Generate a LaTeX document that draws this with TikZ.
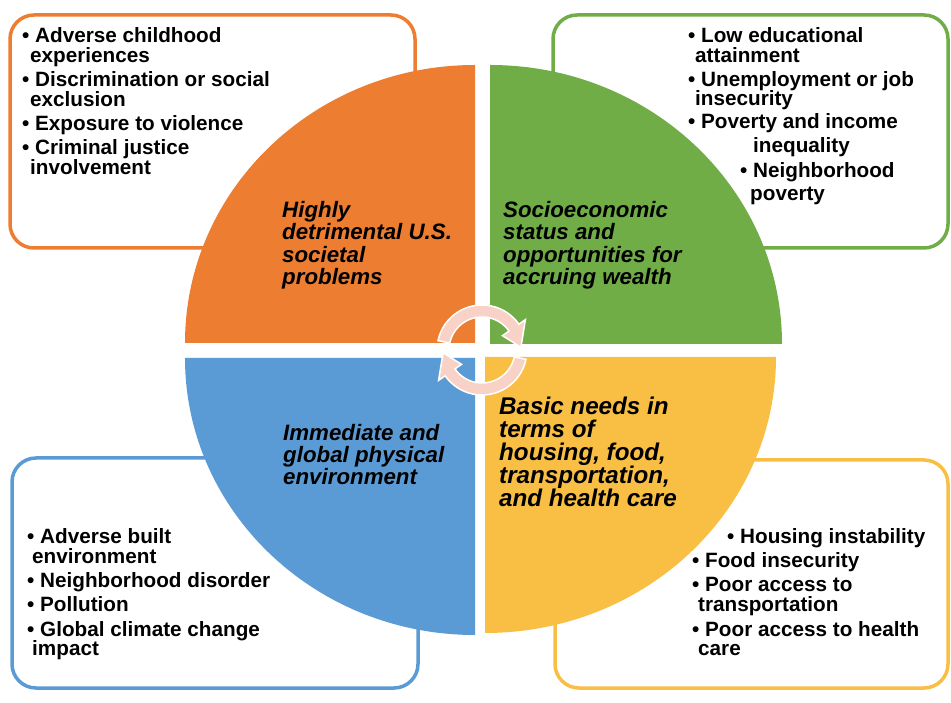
\documentclass[tikz,border=0pt]{standalone}
\usepackage{fontspec}
\setmainfont{Liberation Sans}
\usetikzlibrary{calc}
\definecolor{qorange}{HTML}{ED7D31}
\definecolor{qgreen}{HTML}{70AD47}
\definecolor{qblue}{HTML}{5B9BD5}
\definecolor{qyellow}{HTML}{F9BF44}
\definecolor{cycpink}{RGB}{248,210,198}
\begin{document}
\begin{tikzpicture}[x=1pt,y=1pt,
  listbox/.style={line width=3.5pt, rounded corners=24pt, fill=white},
  bul/.style={anchor=base west, inner sep=0pt, font=\fontsize{20.7}{20}\selectfont\bfseries},
  lab/.style={anchor=base west, inner sep=0pt, font=\fontsize{22.3}{22}\selectfont\bfseries\itshape},
  biglab/.style={anchor=base west, inner sep=0pt, font=\fontsize{24.2}{23}\selectfont\bfseries\itshape},
  cyc/.style={fill=cycpink, draw=white, line width=1.5pt}]
\useasboundingbox[fill=white] (0,0) rectangle (951,702);

% list boxes behind the circle
\draw[listbox, draw=qorange] (10,454) rectangle (415,687);
\draw[listbox, draw=qgreen]  (553,454) rectangle (948,687);
\draw[listbox, draw=qblue]   (12,14) rectangle (418,244);
\draw[listbox, draw=qyellow] (555,14) rectangle (948,242);

% the four quarters of the circle
\fill[qorange] (475,359) -- (185,359) arc[start angle=180, end angle=90, x radius=290, y radius=278] -- cycle;
\fill[qgreen]  (490,358) -- (490,637) arc[start angle=90, end angle=0, x radius=292, y radius=279] -- cycle;
\fill[qyellow] (485,345) -- (776,345) arc[start angle=0, end angle=-90, x radius=291, y radius=276] -- cycle;
\fill[qblue]   (475,344) -- (475,67) arc[start angle=-90, end angle=-180, x radius=290, y radius=277] -- cycle;

% quarter titles
\node[lab] (ot1) at (282,484) {Highly};
\node[lab] (ot2) at (282,462) {detrimental U.S.};
\node[lab] (ot3) at (282,439) {societal};
\node[lab] (ot4) at (282,417) {problems};

\node[lab] (gt1) at (503,484) {Socioeconomic};
\node[lab] (gt2) at (503,462) {status and};
\node[lab] (gt3) at (503,439) {opportunities for};
\node[lab] (gt4) at (503,417) {accruing wealth};

\node[lab] (bt1) at (283,261) {Immediate and};
\node[lab] (bt2) at (283,239) {global physical};
\node[lab] (bt3) at (283,217) {environment};

\node[biglab] (yt1) at (499,287) {Basic needs in};
\node[biglab] (yt2) at (499,264) {terms of};
\node[biglab] (yt3) at (499,241) {housing, food,};
\node[biglab] (yt4) at (499,218) {transportation,};
\node[biglab] (yt5) at (499,195) {and health care};

% orange list
\node[bul] (o1) at (22,659) {\textbullet\ Adverse childhood};
\node[bul] (o2) at (30,639) {experiences};
\node[bul] (o3) at (22,615) {\textbullet\ Discrimination or social};
\node[bul] (o4) at (30,595) {exclusion};
\node[bul] (o5) at (22,571) {\textbullet\ Exposure to violence};
\node[bul] (o6) at (22,547) {\textbullet\ Criminal justice};
\node[bul] (o7) at (30,527) {involvement};

% green list
\node[bul] (g1) at (688,659) {\textbullet\ Low educational};
\node[bul] (g2) at (695,639) {attainment};
\node[bul] (g3) at (688,615) {\textbullet\ Unemployment or job};
\node[bul] (g4) at (695,596) {insecurity};
\node[bul] (g5) at (688,573) {\textbullet\ Poverty and income};
\node[bul] (g6) at (753,549) {inequality};
\node[bul] (g7) at (740,524) {\textbullet\ Neighborhood};
\node[bul] (g8) at (750,501) {poverty};

% blue list
\node[bul] (b1) at (27,158) {\textbullet\ Adverse built};
\node[bul] (b2) at (32,138) {environment};
\node[bul] (b3) at (27,114) {\textbullet\ Neighborhood disorder};
\node[bul] (b4) at (27,90)  {\textbullet\ Pollution};
\node[bul] (b5) at (27,66)  {\textbullet\ Global climate change};
\node[bul] (b6) at (32,46)  {impact};

% yellow list
\node[bul] (y1) at (727,158) {\textbullet\ Housing instability};
\node[bul] (y2) at (692,134) {\textbullet\ Food insecurity};
\node[bul] (y3) at (692,110) {\textbullet\ Poor access to};
\node[bul] (y4) at (698,90)  {transportation};
\node[bul] (y5) at (692,66)  {\textbullet\ Poor access to health};
\node[bul] (y6) at (698,46)  {care};

% circular arrows in the middle
\coordinate (cc) at (482,352);
\path[cyc] ([shift={(168:45)}]cc) arc[start angle=168, end angle=35, radius=45]
  -- ([shift={(35:53)}]cc) -- ([shift={(4:39)}]cc) -- ([shift={(35:25)}]cc)
  -- ([shift={(35:33)}]cc) arc[start angle=35, end angle=168, radius=33] -- cycle;
\path[cyc] ([shift={(-12:45)}]cc) arc[start angle=-12, end angle=-145, radius=45]
  -- ([shift={(-145:53)}]cc) -- ([shift={(-176:39)}]cc) -- ([shift={(-145:25)}]cc)
  -- ([shift={(-145:33)}]cc) arc[start angle=-145, end angle=-12, radius=33] -- cycle;
\end{tikzpicture}
\end{document}
